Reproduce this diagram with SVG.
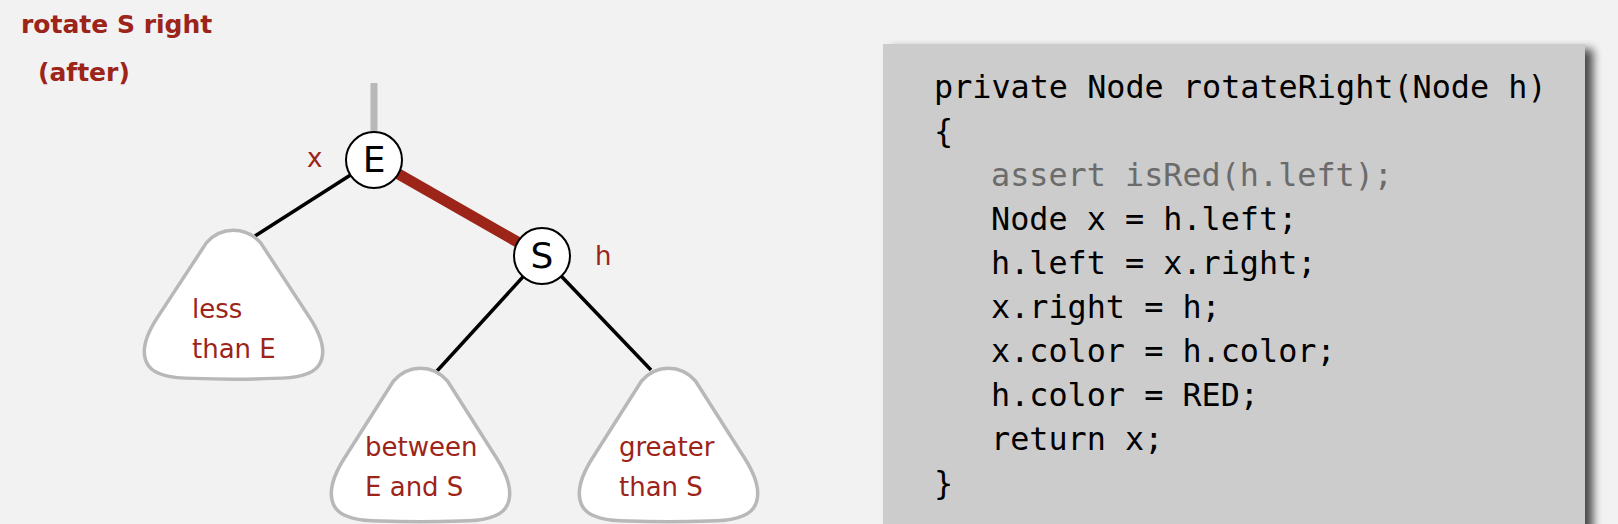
<svg xmlns="http://www.w3.org/2000/svg" width="1618" height="524" viewBox="0 0 1618 524">
  <style>
    .title { font-family: "DejaVu Sans", "Liberation Sans", sans-serif; font-weight: bold; font-size: 25px; fill: #9c2419; }
    .lbl { font-family: "DejaVu Sans", "Liberation Sans", sans-serif; font-size: 26px; fill: #9c2419; }
    .key { font-family: "DejaVu Sans", "Liberation Sans", sans-serif; font-size: 36px; fill: #000; text-anchor: middle; }
    .node { fill: #fff; stroke: #000; stroke-width: 2; }
    .tri { fill: #fff; stroke: #b8b8b8; stroke-width: 3.5; stroke-linejoin: round; }
    .code { font-family: "DejaVu Sans Mono", "Liberation Mono", monospace; font-size: 31.8px; fill: #000; }
    .dim { fill: #6b6b6b; }
    .blk { stroke: #000; stroke-width: 3.5; fill: none; }
  </style>
  <defs>
    <path id="triShape" d="M -27,13 C -12,-4 12,-4 27,13 L 76,90 C 90,112 93,128 85,140 C 78,150 60,153 40,153 C 15,154 -15,154 -40,153 C -60,153 -78,150 -85,140 C -93,128 -90,112 -76,90 Z"/>
    <filter id="shadow" x="-5%" y="-10%" width="115%" height="125%">
      <feGaussianBlur in="SourceAlpha" stdDeviation="5"/>
      <feOffset dx="8" dy="5" result="b"/>
      <feComponentTransfer><feFuncA type="linear" slope="0.7"/></feComponentTransfer>
      <feMerge><feMergeNode/><feMergeNode in="SourceGraphic"/></feMerge>
    </filter>
  </defs>
  <rect x="0" y="0" width="1618" height="524" fill="#f2f2f2"/>

  <g id="title">
    <text class="title" x="21" y="33">rotate S right</text>
    <text class="title" x="38" y="81">(after)</text>
  </g>

  <g id="connectors">
    <line x1="374" y1="83" x2="374" y2="140" stroke="#b8b8b8" stroke-width="7"/>
    <line class="blk" x1="374" y1="160" x2="255" y2="236"/>
    <line x1="374" y1="160" x2="542" y2="256" stroke="#9c2419" stroke-width="11"/>
    <line class="blk" x1="542" y1="256" x2="437" y2="371"/>
    <line class="blk" x1="542" y1="256" x2="651" y2="370"/>
  </g>

  <g id="less">
    <use href="#triShape" class="tri" transform="translate(233.5,230) scale(1,0.97)"/>
    <text class="lbl" x="192" y="318">less</text>
    <text class="lbl" x="192" y="358">than E</text>
  </g>
  <g id="between">
    <use href="#triShape" class="tri" transform="translate(420.5,368)"/>
    <text class="lbl" x="365" y="456">between</text>
    <text class="lbl" x="365" y="496">E and S</text>
  </g>
  <g id="greater">
    <use href="#triShape" class="tri" transform="translate(668.5,368)"/>
    <text class="lbl" x="619" y="456">greater</text>
    <text class="lbl" x="619" y="496">than S</text>
  </g>

  <g id="E">
    <circle class="node" cx="374" cy="160" r="28"/>
    <text class="key" x="374" y="172">E</text>
    <text class="lbl" x="307" y="167">x</text>
  </g>
  <g id="S">
    <circle class="node" cx="542" cy="256" r="28"/>
    <text class="key" x="542" y="268">S</text>
    <text class="lbl" x="595" y="265">h</text>
  </g>

  <g id="code">
    <rect x="883" y="44" width="702" height="520" fill="#cccccc" filter="url(#shadow)"/>
    <text class="code" x="934" y="98">private Node rotateRight(Node h)</text>
    <text class="code" x="934" y="142">{</text>
    <text class="code dim" x="991" y="186">assert isRed(h.left);</text>
    <text class="code" x="991" y="230">Node x = h.left;</text>
    <text class="code" x="991" y="274">h.left = x.right;</text>
    <text class="code" x="991" y="318">x.right = h;</text>
    <text class="code" x="991" y="362">x.color = h.color;</text>
    <text class="code" x="991" y="406">h.color = RED;</text>
    <text class="code" x="991" y="450">return x;</text>
    <text class="code" x="934" y="494">}</text>
  </g>
</svg>
